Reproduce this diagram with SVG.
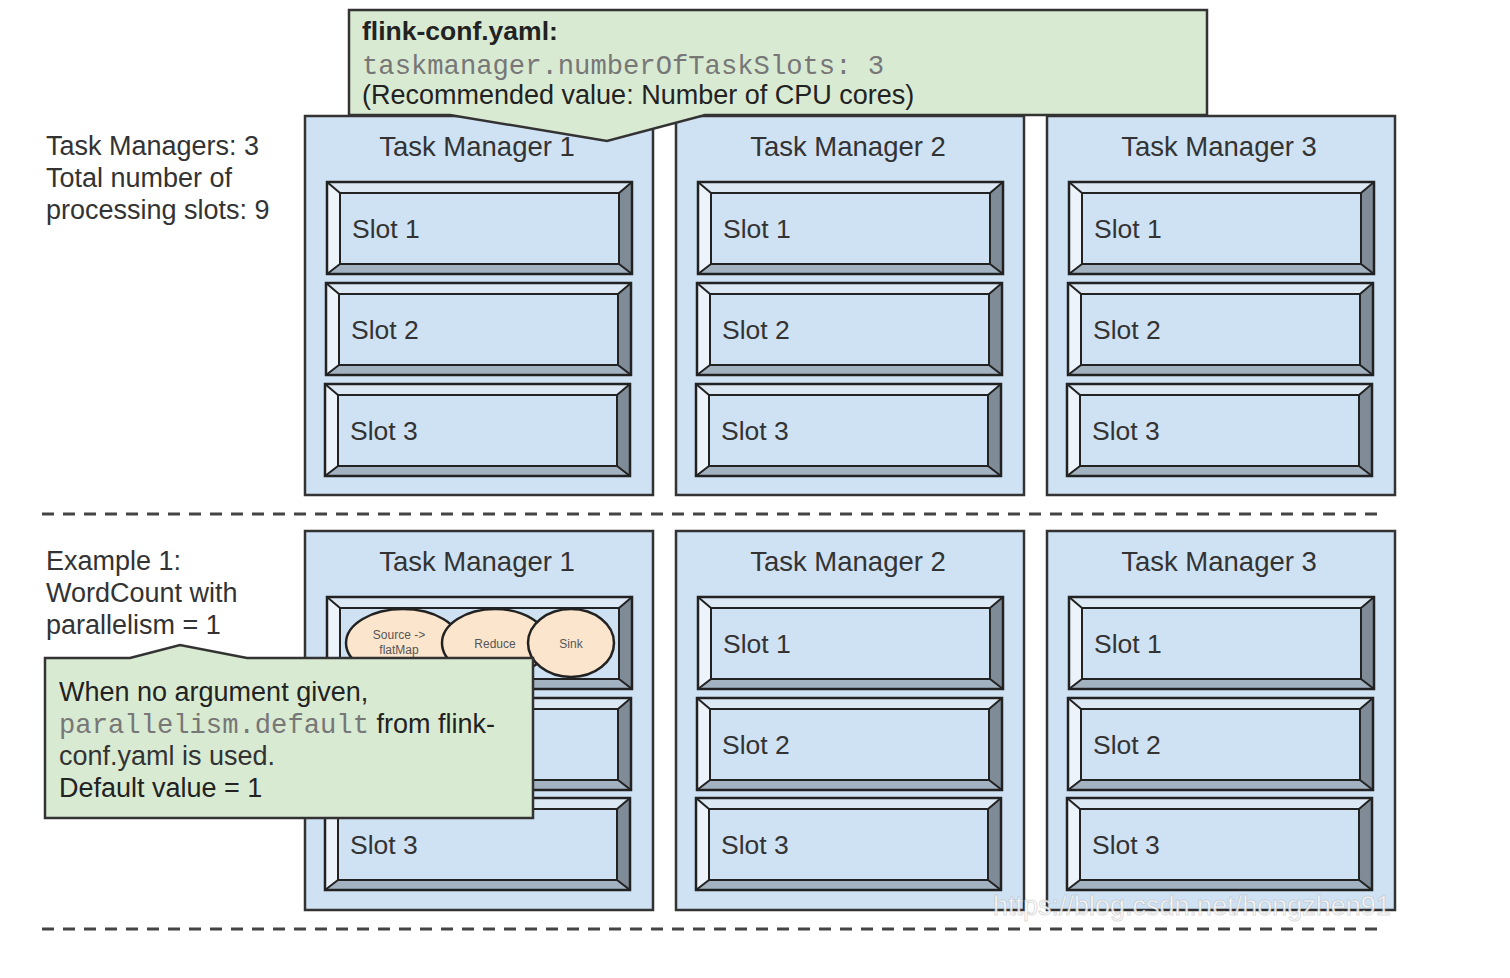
<svg xmlns="http://www.w3.org/2000/svg" xmlns:xlink="http://www.w3.org/1999/xlink" width="1510" height="978" viewBox="0 0 1510 978">
<style>
.tm{fill:#cfe2f3;stroke:#333;stroke-width:2.5}
.lbl{font-family:"Liberation Sans",Arial,sans-serif;font-size:27px;fill:#333}
.sl{font-family:"Liberation Sans",Arial,sans-serif;font-size:26.5px;fill:#333}
.tml{font-family:"Liberation Sans",Arial,sans-serif;font-size:27.5px;fill:#333;text-anchor:middle}
.mono{font-family:"Liberation Mono","Courier New",monospace;font-size:27.2px;fill:#777}
.call{fill:#d9ead3;stroke:#333;stroke-width:2.5;stroke-linejoin:miter}
.sep{fill:none;stroke:#444;stroke-width:3;stroke-dasharray:12 9}
.op{fill:#fce5cd;stroke:#222;stroke-width:2.5}
.opt{font-family:"Liberation Sans",Arial,sans-serif;font-size:12px;fill:#555;text-anchor:middle}
.bev{stroke:#222;stroke-width:2;stroke-linejoin:round}
</style>
<defs>
<g id="slot">
<polygon points="0,0 305,0 292,11 13,11" fill="#dce9f5"/>
<polygon points="0,0 13,11 13,82 0,92" fill="#ecf3fa"/>
<polygon points="305,0 305,92 292,82 292,11" fill="#7f8c98"/>
<polygon points="0,92 305,92 292,82 13,82" fill="#a2b2c1"/>
<rect x="13" y="11" width="279" height="71" fill="#cfe2f3" class="bev"/>
<path d="M0,0 L13,11 M305,0 L292,11 M305,92 L292,82 M0,92 L13,82" class="bev" fill="none"/>
<rect x="0" y="0" width="305" height="92" fill="none" stroke="#222" stroke-width="2.5"/>
</g>
</defs>
<rect width="1510" height="978" fill="#fff"/>

<g id="separators">
<line x1="42" y1="514" x2="1385" y2="514" class="sep"/>
<line x1="42" y1="929" x2="1385" y2="929" class="sep"/>
</g>
<g id="connectors"/>

<g id="info-left-top">
<text class="lbl" x="46" y="155">Task Managers: 3</text>
<text class="lbl" x="46" y="187">Total number of</text>
<text class="lbl" x="46" y="219">processing slots: 9</text>
</g>
<g id="info-left-bottom">
<text class="lbl" x="46" y="570">Example 1:</text>
<text class="lbl" x="46" y="602">WordCount with</text>
<text class="lbl" x="46" y="634">parallelism = 1</text>
</g>

<!-- Top row -->
<g id="tm1-top">
<rect class="tm" x="305" y="116" width="348" height="379"/>
<text class="tml" x="477" y="156">Task Manager 1</text>
<g id="tm1-top-slot1"><use xlink:href="#slot" x="327" y="182"/><text class="sl" x="352" y="238">Slot 1</text></g>
<g id="tm1-top-slot2"><use xlink:href="#slot" x="326" y="283"/><text class="sl" x="351" y="339">Slot 2</text></g>
<g id="tm1-top-slot3"><use xlink:href="#slot" x="325" y="384"/><text class="sl" x="350" y="440">Slot 3</text></g>
</g>
<g id="tm2-top">
<rect class="tm" x="676" y="116" width="348" height="379"/>
<text class="tml" x="848" y="156">Task Manager 2</text>
<g id="tm2-top-slot1"><use xlink:href="#slot" x="698" y="182"/><text class="sl" x="723" y="238">Slot 1</text></g>
<g id="tm2-top-slot2"><use xlink:href="#slot" x="697" y="283"/><text class="sl" x="722" y="339">Slot 2</text></g>
<g id="tm2-top-slot3"><use xlink:href="#slot" x="696" y="384"/><text class="sl" x="721" y="440">Slot 3</text></g>
</g>
<g id="tm3-top">
<rect class="tm" x="1047" y="116" width="348" height="379"/>
<text class="tml" x="1219" y="156">Task Manager 3</text>
<g id="tm3-top-slot1"><use xlink:href="#slot" x="1069" y="182"/><text class="sl" x="1094" y="238">Slot 1</text></g>
<g id="tm3-top-slot2"><use xlink:href="#slot" x="1068" y="283"/><text class="sl" x="1093" y="339">Slot 2</text></g>
<g id="tm3-top-slot3"><use xlink:href="#slot" x="1067" y="384"/><text class="sl" x="1092" y="440">Slot 3</text></g>
</g>

<!-- Bottom row -->
<g id="tm1-bottom">
<rect class="tm" x="305" y="531" width="348" height="379"/>
<text class="tml" x="477" y="571">Task Manager 1</text>
<g id="tm1-bottom-slot1"><use xlink:href="#slot" x="327" y="597"/></g>
<g id="tm1-bottom-slot2"><use xlink:href="#slot" x="326" y="698"/></g>
<g id="tm1-bottom-slot3"><use xlink:href="#slot" x="325" y="798"/><text class="sl" x="350" y="854">Slot 3</text></g>
<g id="op-source">
<ellipse class="op" cx="403" cy="643" rx="57" ry="34"/>
<text class="opt" x="399" y="639">Source -&gt;</text>
<text class="opt" x="399" y="654">flatMap</text>
</g>
<g id="op-reduce">
<ellipse class="op" cx="495" cy="643" rx="53" ry="34"/>
<text class="opt" x="495" y="648">Reduce</text>
</g>
<g id="op-sink">
<ellipse class="op" cx="571" cy="643" rx="43" ry="34"/>
<text class="opt" x="571" y="648">Sink</text>
</g>
</g>
<g id="tm2-bottom">
<rect class="tm" x="676" y="531" width="348" height="379"/>
<text class="tml" x="848" y="571">Task Manager 2</text>
<g id="tm2-bottom-slot1"><use xlink:href="#slot" x="698" y="597"/><text class="sl" x="723" y="653">Slot 1</text></g>
<g id="tm2-bottom-slot2"><use xlink:href="#slot" x="697" y="698"/><text class="sl" x="722" y="754">Slot 2</text></g>
<g id="tm2-bottom-slot3"><use xlink:href="#slot" x="696" y="798"/><text class="sl" x="721" y="854">Slot 3</text></g>
</g>
<g id="tm3-bottom">
<rect class="tm" x="1047" y="531" width="348" height="379"/>
<text class="tml" x="1219" y="571">Task Manager 3</text>
<g id="tm3-bottom-slot1"><use xlink:href="#slot" x="1069" y="597"/><text class="sl" x="1094" y="653">Slot 1</text></g>
<g id="tm3-bottom-slot2"><use xlink:href="#slot" x="1068" y="698"/><text class="sl" x="1093" y="754">Slot 2</text></g>
<g id="tm3-bottom-slot3"><use xlink:href="#slot" x="1067" y="798"/><text class="sl" x="1092" y="854">Slot 3</text></g>
</g>

<!-- Callouts -->
<g id="callout-config">
<path class="call" d="M349,10 H1207 V115 H705 L607,141 L450,115 H349 Z"/>
<text x="362" y="40" style="font-family:'Liberation Sans',Arial,sans-serif;font-size:26.5px;font-weight:bold;fill:#222">flink-conf.yaml:</text>
<text class="mono" x="362" y="74">taskmanager.numberOfTaskSlots: 3</text>
<text class="lbl" x="362" y="104" style="fill:#222">(Recommended value: Number of CPU cores)</text>
</g>
<g id="callout-default">
<path class="call" d="M45,658 H130 L180,645 L247,658 H533 V818 H45 Z"/>
<text class="lbl" x="59" y="701" style="fill:#222">When no argument given,</text>
<text x="59" y="733"><tspan class="mono">parallelism.default</tspan><tspan class="lbl" style="fill:#222"> from flink-</tspan></text>
<text class="lbl" x="59" y="765" style="fill:#333">conf.yaml is used.</text>
<text class="lbl" x="59" y="797" style="fill:#222">Default value = 1</text>
</g>

<g id="watermark">
<text x="993" y="915" style="font-family:'Liberation Sans',Arial,sans-serif;font-size:27px;fill:#ffffff;fill-opacity:0.85;stroke:#999;stroke-opacity:0.35;stroke-width:1">https://blog.csdn.net/hongzhen91</text>
</g>
</svg>
